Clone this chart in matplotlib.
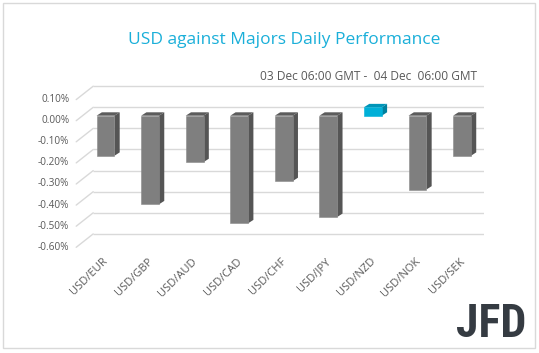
import matplotlib
matplotlib.use("Agg")
import matplotlib.pyplot as plt
import matplotlib.transforms as mtransforms
from matplotlib.patches import Polygon, Rectangle

# ---- data ----
categories = ["USD/EUR", "USD/GBP", "USD/AUD", "USD/CAD", "USD/CHF",
              "USD/JPY", "USD/NZD", "USD/NOK", "USD/SEK"]
values = [-0.19, -0.42, -0.22, -0.51, -0.31, -0.48, 0.04, -0.35, -0.19]
yticks = [0.10, 0.00, -0.10, -0.20, -0.30, -0.40, -0.50, -0.60]
ytick_labels = ["0.10%", "0.00%", "-0.10%", "-0.20%", "-0.30%",
                "-0.40%", "-0.50%", "-0.60%"]
title = "USD against Majors Daily Performance"
subtitle = "03 Dec 06:00 GMT -  04 Dec  06:00 GMT"

W, H, DPI = 539, 353, 100
fig = plt.figure(figsize=(W / DPI, H / DPI), dpi=DPI)
fig.patch.set_facecolor("white")
plt.rcParams["font.family"] = ["Open Sans", "DejaVu Sans"]

# outer border
fig.patches.append(Rectangle((3 / W, 5 / H), 532 / W, 345 / H,
                             transform=fig.transFigure, fill=False,
                             edgecolor="#D9D9D9", lw=1.0))

# axes: bar front plane
ylo, yhi = -0.65, 0.15
zero_px, px_per_unit = 115.7, 211.0
top_px = zero_px - yhi * px_per_unit
bot_px = zero_px - ylo * px_per_unit
left_px, right_px = 83.2, 484.3
ax = fig.add_axes([left_px / W, (H - bot_px) / H,
                   (right_px - left_px) / W, (bot_px - top_px) / H])
ax.set_xlim(-0.5, 8.5)
ax.set_ylim(ylo, yhi)
ax.axis("off")


def px_off(dx, dy):
    return mtransforms.ScaledTranslation(dx / DPI, dy / DPI, fig.dpi_scale_trans)


back = ax.transData + px_off(10, 8.4)
front = ax.transData + px_off(-7, -5.0)
grid_c = "#D9D9D9"

# back wall gridlines and floor diagonals
for v in yticks:
    ax.plot([-0.5, 8.5], [v, v], transform=back, color=grid_c, lw=1.0,
            solid_capstyle="butt", zorder=1)
    ax.annotate("", xy=(-0.5, v), xycoords=back,
                xytext=(-0.5, v), textcoords=front,
                arrowprops=dict(arrowstyle="-", color=grid_c, lw=1.0,
                                shrinkA=0, shrinkB=0), zorder=1)

# y tick labels at front edge
for v, lab in zip(yticks, ytick_labels):
    ax.text(-0.5, v, lab, transform=ax.transData + px_off(-14, -5.0),
            ha="right", va="center", fontsize=7.2, color="#595959")

# bars
bw = 0.4
dx, dy = 5.3, 3.4
x = list(range(len(categories)))
gray = ("#7F7F7F", "#555555", "#5C5C5C")
blue = ("#00B0D8", "#00809E", "#0095B8")
for i, v in zip(x, values):
    fc, sc, tc = blue if v > 0 else gray
    ax.bar(i, v, width=bw, color=fc, edgecolor="#8A8A8A" if v < 0 else fc,
           lw=0.4, zorder=3)
    xr, xl = i + bw / 2, i - bw / 2
    td = ax.transData
    p0 = td.transform((xr, 0))
    p1 = td.transform((xr, v))
    side = [p0, p1, p1 + [dx, dy], p0 + [dx, dy]]
    ax.add_patch(Polygon(side, closed=True, transform=None, facecolor=sc,
                         edgecolor="none", zorder=2))
    ytop = max(v, 0)
    q0 = td.transform((xl, ytop))
    q1 = td.transform((xr, ytop))
    topf = [q0, q1, q1 + [dx, dy], q0 + [dx, dy]]
    ax.add_patch(Polygon(topf, closed=True, transform=None, facecolor=tc,
                         edgecolor="none", zorder=2))

# category labels
for i, lab in zip(x, categories):
    ax.text(i, ylo, lab, transform=ax.transData + px_off(-3, -3),
            rotation=45, rotation_mode="anchor", ha="right", va="top",
            fontsize=8.0, color="#595959")

# title & subtitle
fig.text(284 / W, 1 - 40 / H, title, ha="center", va="center",
         fontsize=12.5, color="#1AAFD9")
fig.text(477 / W, 1 - 76 / H, subtitle, ha="right", va="center",
         fontsize=8.6, color="#595959")

# logo
logo_c = "#353B42"
fig.text(491 / W, 1 - 324 / H, "JFD", ha="center", va="center",
         fontsize=33, fontweight="bold", color=logo_c,
         family=["Liberation Sans Narrow", "Roboto Condensed", "Roboto", "DejaVu Sans"])

fig.savefig("out.png", dpi=DPI, facecolor="white")
